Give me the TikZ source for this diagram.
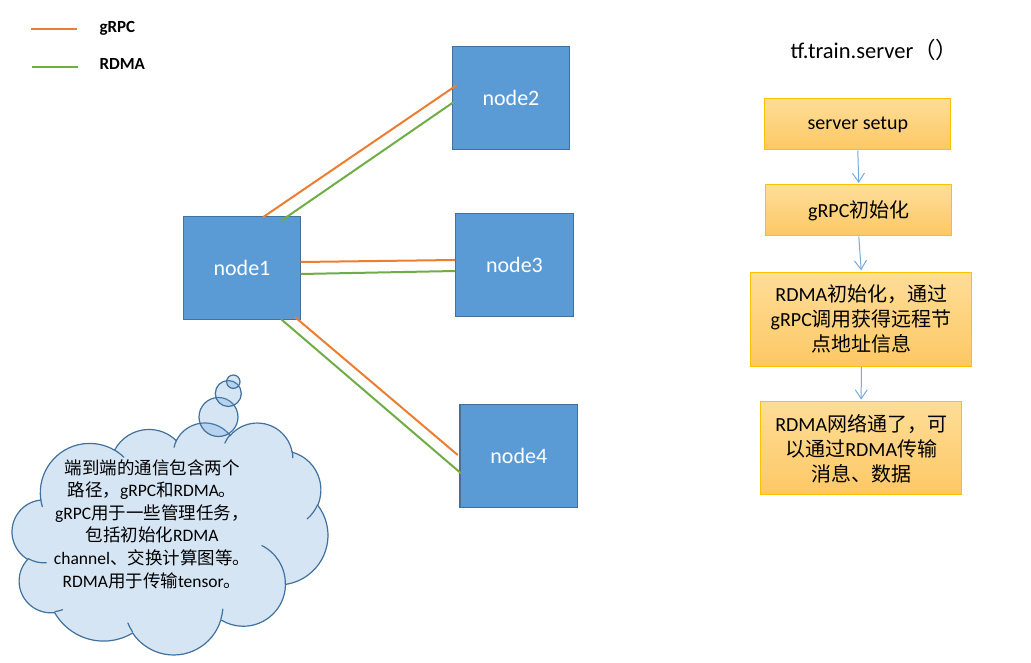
\documentclass[tikz,border=0pt]{standalone}
\usepackage{fontspec}
\setmainfont{Carlito}
\newfontfamily\cjk{Noto Sans CJK SC}
\newcommand\zh[1]{{\cjk #1}}
\usetikzlibrary{arrows.meta,calc}
\definecolor{nodeblue}{RGB}{91,155,213}
\definecolor{nodeedge}{RGB}{65,113,156}
\definecolor{grpc}{RGB}{237,125,49}
\definecolor{rdma}{RGB}{112,173,71}
\definecolor{goldedge}{RGB}{255,192,0}
\definecolor{goldtop}{RGB}{254,221,152}
\definecolor{goldbot}{RGB}{253,200,100}
\definecolor{arrowblue}{RGB}{120,170,222}
\begin{document}
\begin{tikzpicture}[x=1pt,y=-1pt,
  netnode/.style={draw=nodeedge, line width=1.2pt, fill=nodeblue, minimum width=117.5pt, minimum height=103pt, inner sep=0pt, text=white, font=\fontsize{22}{26}\selectfont},
  flowbox/.style={draw=goldedge, line width=1pt, top color=goldtop, bottom color=goldbot, inner sep=0pt, align=center, font=\fontsize{20}{25}\selectfont},
  grpcline/.style={grpc, line width=2pt},
  rdmaline/.style={rdma, line width=2pt},
  flowarrow/.style={arrowblue, line width=1pt, shorten >=1.5pt, -{Straight Barb[length=9pt,width=12pt]}},
  cloudline/.style={draw=nodeedge, line width=1.2pt},
  bubble/.style={circle, cloudline, fill=nodeblue, fill opacity=0.25, inner sep=0pt},
  legendtext/.style={anchor=west, font=\bfseries\fontsize{17}{20}\selectfont},
]
\useasboundingbox (0,0) rectangle (1031,663);
\fill[white] (0,0) rectangle (1031,663);

% legend
\coordinate (lg1a) at (31,29); \coordinate (lg1b) at (77,29);
\coordinate (lg2a) at (32,67); \coordinate (lg2b) at (78,67);
\draw[grpcline] (lg1a) -- (lg1b);
\draw[rdmaline] (lg2a) -- (lg2b);
\node[legendtext] (lgt1) at (96,28) {gRPC};
\node[legendtext] (lgt2) at (96,64) {RDMA};

% network nodes
\node[netnode] (n1) at (242,268) {node1};
\node[netnode] (n2) at (511,97.7) {node2};
\node[netnode] (n3) at (514.5,265) {node3};
\node[netnode] (n4) at (518.8,455.8) {node4};

\draw[grpcline] ($(n1.north)+(21,1.3)$) -- ($(n2.west)+(5,-12.5)$);
\draw[rdmaline] ($(n1.north)+(39,5)$) -- ($(n2.west)+(1.7,4.6)$);
\draw[grpcline] ($(n1.east)+(-0.7,-6)$) -- ($(n3.west)+(0,-5)$);
\draw[rdmaline] ($(n1.east)+(-0.7,6)$) -- ($(n3.west)+(0,6)$);
\draw[grpcline] ($(n1.south east)+(-6.7,-3.3)$) -- ($(n4.west)+(-1.7,-0.8)$);
\draw[rdmaline] ($(n1.south)+(39,-1)$) -- ($(n4.west)+(2.7,18.5)$);

% cloud callout
\begin{scope}[shift={(12.26,422.24)}, x=0.7305pt, y=-0.5368pt]
\path[cloudline, fill=nodeblue, fill opacity=0.25] (39.00,143.70)
  arc[start angle=-187.746, delta angle=128.106, x radius=67.53, y radius=91.90]
  arc[start angle=-152.03, delta angle=106.59, x radius=53.33, y radius=72.67]
  arc[start angle=-153.49, delta angle=116.16, x radius=43.65, y radius=59.45]
  arc[start angle=-139.71, delta angle=129.50, x radius=48.57, y radius=65.95]
  arc[start angle=-74.77, delta angle=97.98, x radius=53.33, y radius=72.73]
  arc[start angle=-37.53, delta angle=119.39, x radius=67.75, y radius=92.20]
  arc[start angle=0.4596, delta angle=121.53, x radius=57.85, y radius=78.67]
  arc[start angle=16.84, delta angle=129.42, x radius=67.52, y radius=92.15]
  arc[start angle=59.00, delta angle=91.19, x radius=77.20, y radius=105.43]
  arc[start angle=-276.69, delta angle=139.82, x radius=43.60, y radius=59.18]
  arc[start angle=-239.64, delta angle=143.75, x radius=43.45, y radius=59.45]
  -- cycle;
\draw[cloudline]
  (46.93,261.77) arc[start angle=85.546, delta angle=34.81, x radius=43.45, y radius=59.45]
  (69.28,348.99) arc[start angle=68.24, delta angle=15.07, x radius=43.60, y radius=59.18]
  (164.78,390.90) arc[start angle=146.26, delta angle=12.21, x radius=67.52, y radius=92.15]
  (288.27,347.51) arc[start angle=4.738, delta angle=12.10, x radius=67.52, y radius=92.15]
  (341.29,229.54) arc[start angle=-64.03, delta angle=64.49, x radius=57.85, y radius=78.67]
  (417.98,153.54) arc[start angle=23.21, delta angle=26.43, x radius=53.33, y radius=72.73]
  (383.24,54.26) arc[start angle=-10.21, delta angle=11.03, x radius=48.57, y radius=65.95]
  (290.78,39.52) arc[start angle=-156.29, delta angle=16.58, x radius=48.57, y radius=65.95]
  (221.41,47.20) arc[start angle=-167.73, delta angle=14.24, x radius=43.65, y radius=59.45]
  (140.00,51.92) arc[start angle=-59.64, delta angle=13.92, x radius=67.53, y radius=91.90]
  (41.27,157.89) arc[start angle=163.19, delta angle=9.06, x radius=67.53, y radius=91.90];
\end{scope}
\node[bubble, minimum size=39pt] (bub1) at (218.5,417) {};
\node[bubble, minimum size=26pt] (bub2) at (228.3,393.5) {};
\node[bubble, minimum size=13.4pt] (bub3) at (233.3,381.7) {};
\node[align=center, font=\fontsize{17.5}{22.6}\selectfont] (cloudtext) at (152,524)
 {\zh{端到端的通信包含两个}\\
  \zh{路径，}gRPC\zh{和}RDMA\zh{。}\\
  gRPC\zh{用于一些管理任务，}\\
  \zh{包括初始化}RDMA\\
  channel\zh{、交换计算图等。}\\
  RDMA\zh{用于传输}tensor\zh{。}};

% flowchart
\node[anchor=west, font=\fontsize{22.5}{26}\selectfont] (title) at (787,50) {tf.train.server\zh{（）}};
\node[flowbox, minimum width=185.7pt, minimum height=51pt] (b1) at (857.8,124.5) {server setup};
\node[flowbox, minimum width=185.7pt, minimum height=51pt] (b2) at (858.8,210.5) {gRPC\zh{初始化}};
\node[flowbox, minimum width=220.7pt, minimum height=93.7pt] (b3) at (861.3,319.2)
 {RDMA\zh{初始化，通过}\\gRPC\zh{调用获得远程节}\\\zh{点地址信息}};
\node[flowbox, minimum width=201pt, minimum height=93.3pt] (b4) at (861.2,448.3)
 {RDMA\zh{网络通了，可}\\\zh{以通过}RDMA\zh{传输}\\\zh{消息、数据}};
\draw[flowarrow] (b1.south) -- (b2.north);
\draw[flowarrow] (b2.south) -- (b3.north);
\draw[flowarrow] (b3.south) -- (b4.north);
\end{tikzpicture}
\end{document}
